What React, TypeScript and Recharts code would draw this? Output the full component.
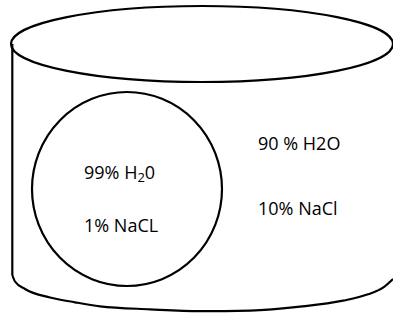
import { ComposedChart, Line, Scatter, XAxis, YAxis } from "recharts";

const W = 393;
const H = 313;

// top rim and the inner cell (px units)
const rims = [{ x: 202, y: 44, rx: 191, ry: 38 }];
const cells = [{ x: 127, y: 189, rx: 95, ry: 97 }];

// cylinder body outline
const leftWall = [
  { x: 12.3, y: 44 },
  { x: 12.3, y: 275 },
];
const bottomEdge = [
  { x: 12.3, y: 275 },
  { x: 15, y: 281.5 },
  { x: 25, y: 289 },
  { x: 50, y: 297.5 },
  { x: 75, y: 302.3 },
  { x: 100, y: 306.3 },
  { x: 150, y: 309.3 },
  { x: 200, y: 311.2 },
  { x: 250, y: 310.6 },
  { x: 300, y: 306.7 },
  { x: 343, y: 300.7 },
  { x: 368, y: 294.3 },
  { x: 383, y: 287.7 },
  { x: 393, y: 279 },
];

const labels = [
  { x: 84, y: 179, pre: "99% H", sub: "2", post: "0" },
  { x: 84, y: 232, pre: "1% NaCL", sub: "", post: "" },
  { x: 258, y: 150, pre: "90 % H2O", sub: "", post: "" },
  { x: 258, y: 215, pre: "10% NaCl", sub: "", post: "" },
];

const k = W / W; // data units -> px

const EllipseShape = (props: any) => {
  const { cx, cy, payload } = props;
  return (
    <ellipse
      cx={cx}
      cy={cy}
      rx={payload.rx * k}
      ry={payload.ry * k}
      fill="none"
      stroke="#000"
      strokeWidth={2.2}
    />
  );
};

const LabelShape = (props: any) => {
  const { cx, cy, payload } = props;
  return (
    <text
      x={cx}
      y={cy}
      fontFamily="'Open Sans', sans-serif"
      fontSize={18}
      fill="#000"
    >
      {payload.pre}
      {payload.sub && (
        <tspan fontSize={13} dy={3}>
          {payload.sub}
        </tspan>
      )}
      {payload.post && <tspan dy={payload.sub ? -3 : 0}>{payload.post}</tspan>}
    </text>
  );
};

export default function App() {
  return (
    <div style={{ position: "absolute", left: 0, top: 0, background: "#fff" }}>
      <ComposedChart
        width={W}
        height={H}
        margin={{ top: 0, right: 0, bottom: 0, left: 0 }}
      >
        <XAxis type="number" dataKey="x" domain={[0, W]} hide />
        <YAxis type="number" dataKey="y" domain={[0, H]} reversed hide />

        <Line
          data={leftWall}
          dataKey="y"
          type="linear"
          stroke="#000"
          strokeWidth={2.2}
          dot={false}
          activeDot={false}
          isAnimationActive={false}
        />
        <Line
          data={bottomEdge}
          dataKey="y"
          type="monotone"
          stroke="#000"
          strokeWidth={2.2}
          dot={false}
          activeDot={false}
          isAnimationActive={false}
        />

        <Scatter data={rims} dataKey="y" shape={EllipseShape} isAnimationActive={false} />
        <Scatter data={cells} dataKey="y" shape={EllipseShape} isAnimationActive={false} />
        <Scatter data={labels} dataKey="y" shape={LabelShape} isAnimationActive={false} />
      </ComposedChart>
    </div>
  );
}
